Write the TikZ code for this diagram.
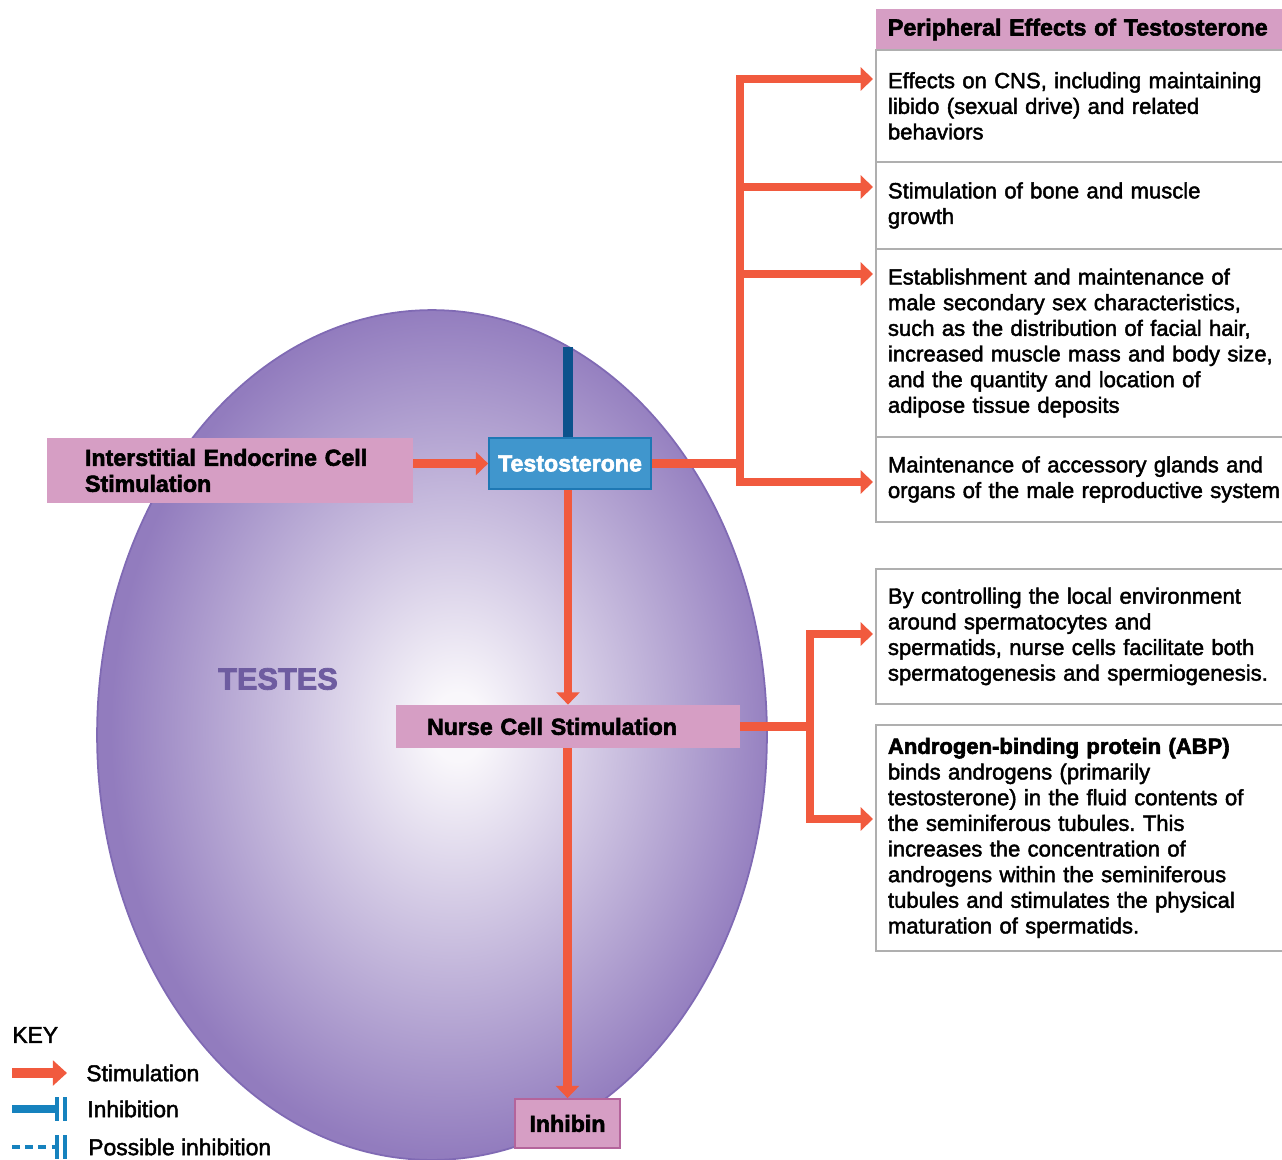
\documentclass[tikz,border=0pt]{standalone}
\usepackage{fontspec}
\setmainfont{Liberation Sans}
\newfontfamily\medfont[FakeBold=2]{Liberation Sans}
\newfontfamily\heavyfont[FakeBold=2.5]{Liberation Sans Bold}
\usetikzlibrary{arrows.meta}

\definecolor{stimred}{RGB}{241,90,62}
\definecolor{boxpink}{RGB}{214,158,196}
\definecolor{pinkedge}{RGB}{180,100,155}
\definecolor{testoblue}{RGB}{64,150,205}
\definecolor{testoedge}{RGB}{30,120,180}
\definecolor{inhblue}{RGB}{12,82,140}
\definecolor{keyblue}{RGB}{22,130,190}
\definecolor{testesdark}{RGB}{146,124,190}
\definecolor{testeslight}{RGB}{249,247,251}
\definecolor{testesedge}{RGB}{128,106,180}
\definecolor{testestext}{RGB}{110,92,160}
\definecolor{rowgray}{RGB}{175,175,175}

\pgfdeclareradialshading{testesglow}{\pgfpoint{2bp}{0.5bp}}{color(0bp)=(testeslight); color(2bp)=(testeslight); color(25bp)=(testesdark); color(50bp)=(testesdark)}

\tikzset{
	stimline/.style={draw=stimred, line width=5pt},
	stim/.style={stimline, line join=miter, -{Triangle[length=7pt, width=13pt]}},
	pinkbox/.style={rectangle, fill=boxpink, inner sep=0pt, font=\heavyfont\fontsize{13.2}{14.8}\selectfont},
	rowbox/.style={rectangle, draw=rowgray, line width=1.1pt, anchor=north west, minimum width=8.6cm,
		text width=8.12cm, inner xsep=0.24cm, align=left, font=\medfont\fontsize{12.55}{14.6}\selectfont},
	keytext/.style={anchor=west, inner sep=0pt, font=\medfont\fontsize{13}{15}\selectfont},
	keybar/.style={draw=keyblue, line width=1.8pt},
}

\begin{document}
\frenchspacing
\begin{tikzpicture}[x=0.02cm, y=-0.02cm]
	\useasboundingbox (0,0) rectangle (1282,1160);

	\shade[shading=testesglow, draw=testesedge, line width=1pt] (432,735) ellipse [x radius=6.7cm, y radius=8.5cm];
	\draw node at (278,679) (testes) {\heavyfont\fontsize{17.5}{20}\selectfont\color{testestext}TESTES};

	\draw node[pinkbox, minimum width=7.32cm, minimum height=1.3cm, text width=5.8cm, align=left] at (230,470.5) (inter) {Interstitial Endocrine Cell\\Stimulation};
	\draw node[pinkbox, fill=testoblue, draw=testoedge, line width=1pt, text=white, minimum width=3.24cm, minimum height=1.02cm] at (570,463.5) (testo) {Testosterone};
	\draw node[pinkbox, minimum width=6.88cm, minimum height=0.86cm, text width=5.64cm, align=left] at (568,726.5) (nurse) {Nurse Cell Stimulation};
	\draw node[pinkbox, draw=pinkedge, line width=1pt, minimum width=2.1cm, minimum height=0.98cm] at (567.5,1123.5) (inhibin) {Inhibin};

	\draw node[rowbox, fill=boxpink, draw=none, minimum height=0.82cm, font=\heavyfont\fontsize{13.2}{14.8}\selectfont] at (875,8) (header) {Peripheral Effects of Testosterone};
	\draw node[rowbox, minimum height=2.24cm] at (875,49) (cns) {Effects on CNS, including maintaining\\libido (sexual drive) and related\\behaviors};
	\draw node[rowbox, minimum height=1.74cm] at (875,161) (bone) {Stimulation of bone and muscle\\growth};
	\draw node[rowbox, minimum height=3.76cm] at (875,248) (sexchar) {Establishment and maintenance of\\male secondary sex characteristics,\\such as the distribution of facial hair,\\increased muscle mass and body size,\\and the quantity and location of\\adipose tissue deposits};
	\draw node[rowbox, minimum height=1.7cm] at (875,436) (organs) {Maintenance of accessory glands and\\organs of the male reproductive system};

	\draw node[rowbox, minimum height=2.7cm] at (875,568) (environ) {By controlling the local environment\\around spermatocytes and\\spermatids, nurse cells facilitate both\\spermatogenesis and spermiogenesis.};
	\draw node[rowbox, minimum height=4.52cm] at (875,724) (abp) {{\heavyfont Androgen-binding protein (ABP)}\\binds androgens (primarily\\testosterone) in the fluid contents of\\the seminiferous tubules. This\\increases the concentration of\\androgens within the seminiferous\\tubules and stimulates the physical\\maturation of spermatids.};

	\coordinate (tbranch) at (740,463.5);
	\coordinate (cnsin) at (873,79);
	\coordinate (bonein) at (873,187);
	\coordinate (sexcharin) at (873,274);
	\coordinate (organsin) at (873,482);
	\coordinate (nbranch) at (810,726.5);
	\coordinate (environin) at (873,634);
	\coordinate (abpin) at (873,819);
	\coordinate (inhtop) at (568,347);

	\draw [inhblue, line width=5.5pt] (inhtop) -- (inhtop |- testo.north);
	\draw [stim] (inter.east |- testo.west) -- (testo.west);
	\draw [stim] (testo.south -| nurse.north) -- (nurse.north);
	\draw [stim] (nurse.south -| inhibin.north) -- (inhibin.north);
	\draw [stimline] (testo.east) -- (tbranch);
	\draw [stim] (tbranch) |- (cnsin);
	\draw [stim] (tbranch) |- (bonein);
	\draw [stim] (tbranch) |- (sexcharin);
	\draw [stim] (tbranch) |- (organsin);
	\draw [stimline] (nurse.east) -- (nbranch);
	\draw [stim] (nbranch) |- (environin);
	\draw [stim] (nbranch) |- (abpin);

	\draw node[keytext] at (12,1035) (key) {KEY};
	\draw node[keytext] at (86,1073) (stimkey) {Stimulation};
	\draw node[keytext] at (87,1109) (inhkey) {Inhibition};
	\draw node[keytext] at (88,1147) (posskey) {Possible inhibition};
	\coordinate (stimA) at (12,1073);
	\coordinate (stimB) at (67,1073);
	\coordinate (inhA) at (12,1109);
	\coordinate (inhB) at (56,1109);
	\coordinate (possA) at (12,1147);
	\coordinate (possB) at (55,1147);
	\draw [draw=stimred, line width=5.5pt, -{Triangle[length=8pt, width=14pt]}] (stimA) -- (stimB);
	\draw [keyblue, line width=4.5pt] (inhA) -- (inhB);
	\draw [keybar] (57,1097) -- (57,1121);
	\draw [keybar] (65,1097) -- (65,1121);
	\draw [keyblue, line width=2.2pt, dash pattern=on 4.5pt off 3pt] (possA) -- (possB);
	\draw [keybar] (57,1135) -- (57,1159);
	\draw [keybar] (65,1135) -- (65,1159);
\end{tikzpicture}
\end{document}
